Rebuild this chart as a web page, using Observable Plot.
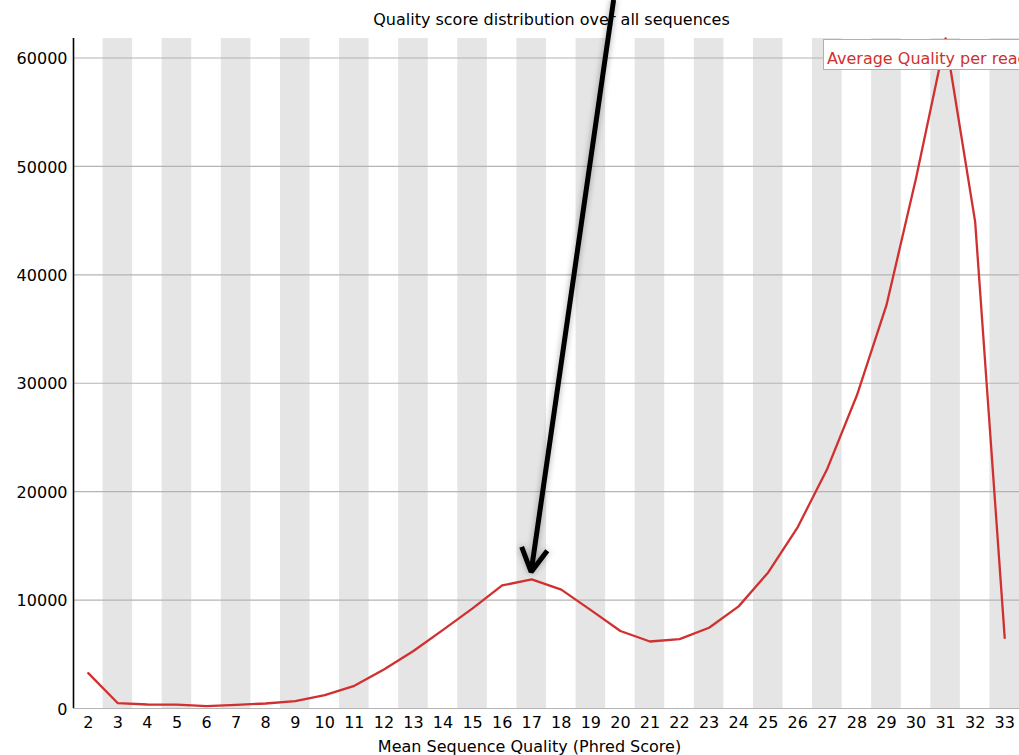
<!DOCTYPE html>
<html><head><meta charset="utf-8">
<script src="https://cdn.jsdelivr.net/npm/d3@7"></script>
<script src="https://cdn.jsdelivr.net/npm/@observablehq/plot@0.6"></script>
<style>
html,body{margin:0;padding:0;background:#fff;overflow:hidden}
#wrap{position:relative;width:1019px;height:755px;overflow:hidden}
#legend{position:absolute;z-index:2;left:823px;top:39px;width:240px;height:31px;border:1px solid #b0b0b0;background:#fff;color:#d03030;font-family:"DejaVu Sans";font-size:16px;line-height:37px;padding-left:3px;white-space:nowrap;box-sizing:border-box;overflow:hidden}
#chart{position:absolute;left:0;top:0;z-index:1}
#arrowLayer{position:absolute;left:0;top:0;z-index:3;filter:drop-shadow(0 0 3px rgba(0,0,0,0.35))}
</style></head><body>
<div id="wrap"><div id="chart"></div><div id="legend">Average Quality per read</div><div id="arrowLayer"></div></div>
<script>
// Mean sequence quality (Phred score) categories
const qualities = [2,3,4,5,6,7,8,9,10,11,12,13,14,15,16,17,18,19,20,21,22,23,24,25,26,27,28,29,30,31,32,33];
// Read counts per mean quality
const counts = [3260,490,370,360,210,340,460,680,1230,2090,3600,5300,7250,9230,11350,11910,10960,9070,7150,6180,6400,7450,9420,12550,16740,22120,28890,37200,48900,61800,44890,6520];
const yTicks = [0,10000,20000,30000,40000,50000,60000];
const yMax = 61800;
const title = "Quality score distribution over all sequences";
const xLabel = "Mean Sequence Quality (Phred Score)";
const legendLabel = "Average Quality per read";
// Annotation arrow (data coordinates): from above the chart to the peak at Q17
const arrowFrom = {x: 19.77, y: 65350};
const arrowTo = {x: 16.98, y: 12600};

const data = qualities.map((q, i) => ({q, n: counts[i]}));
const shaded = qualities.filter(q => q % 2 === 1);

const common = {
  width: 1019, height: 755,
  marginLeft: 73, marginRight: 0, marginTop: 38, marginBottom: 47,
  x: {type: "linear", domain: [1.5, 33.5]},
  y: {domain: [0, yMax]},
  style: {fontFamily: "DejaVu Sans", fontSize: "16px", color: "#000", background: "transparent", overflow: "visible"}
};

const chart = Plot.plot({
  ...common,
  marks: [
    Plot.rect(shaded, {x1: d => d - 0.5, x2: d => d + 0.5, fill: "#e5e5e5"}),
    Plot.ruleY(yTicks, {stroke: "#b4b4b4", strokeWidth: 1.2}),
    Plot.ruleX([1.5], {stroke: "#000", strokeWidth: 1.6}),
    Plot.line(data, {x: "q", y: "n", stroke: "#d03030", strokeWidth: 2.3}),
    Plot.axisY({ticks: yTicks, tickSize: 0, tickPadding: 6, tickFormat: d => String(d), label: null, fontSize: 16, dy: 1}),
    Plot.axisX({ticks: qualities, tickSize: 0, tickPadding: 8, tickFormat: d => String(d), label: null, fontSize: 16}),
    Plot.text([title], {frameAnchor: "top", lineAnchor: "middle", dy: -19, dx: 5, text: d => d, fontSize: 16, fill: "#000"}),
    Plot.text([xLabel], {frameAnchor: "bottom", lineAnchor: "middle", dy: 38.7, dx: -17, text: d => d, fontSize: 16, fill: "#000"})
  ]
});
document.getElementById("chart").appendChild(chart);
document.getElementById("legend").textContent = legendLabel;

const arrowPlot = Plot.plot({
  ...common,
  axis: null,
  marks: [
    Plot.arrow([{x1: arrowFrom.x, y1: arrowFrom.y, x2: arrowTo.x, y2: arrowTo.y}], {
      x1: "x1", y1: "y1", x2: "x2", y2: "y2",
      stroke: "#000", strokeWidth: 5, headAngle: 58, headLength: 8, strokeLinecap: "butt"
    })
  ]
});
document.getElementById("arrowLayer").appendChild(arrowPlot);
</script>
</body></html>
